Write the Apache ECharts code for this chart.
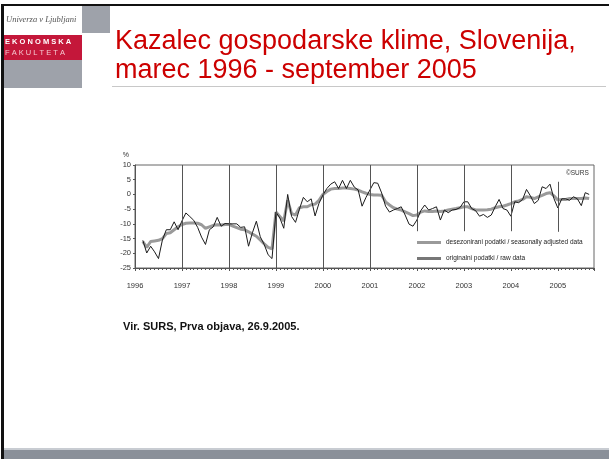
<!DOCTYPE html>
<html>
<head>
<meta charset="utf-8">
<script src="https://cdn.jsdelivr.net/npm/echarts@6/dist/echarts.min.js"></script>
<style>
  html, body { margin: 0; padding: 0; background: #fff; }
  #main { width: 609px; height: 459px; }
</style>
</head>
<body>
<div id="main"></div>
<script>
// monthly series, first value = March 1996, last = September 2005
var startYear = 1996;
var startMonth = 3;

var rawData = [
    -15.6, -19.9, -17.6, -19.5, -21.8, -15.5, -12, -12, -9.3, -12,          // 1996
    -9, -6.3, -7.5, -8.8, -11.2, -14.5, -17, -12, -11, -7.8, -10.8, -9.9,  // 1997
    -10, -10, -10, -11.2, -11, -17.6, -13, -9.1, -14.4, -17, -20.5, -21.8, // 1998
    -6, -8, -11.5, 0, -7.5, -9.5, -5, -1, -2.5, -1.5, -7.3, -3,            // 1999
    -0.2, 2, 3.5, 4.3, 2, 4.8, 2, 4.8, 2.5, 1.5, -4, -1,                    // 2000
    1.5, 4, 3.8, 0.5, -4, -6, -5.3, -4.8, -4.2, -7, -10.1, -10.8,          // 2001
    -8.7, -5.5, -3.6, -5.3, -4.8, -4.2, -8.7, -5.3, -6.2, -5.3, -5.1, -4.5, // 2002
    -2.5, -2.5, -4.8, -5.5, -7.4, -6.8, -7.8, -7, -4.2, -1.7, -4.8, -5.3,  // 2003
    -7.4, -2.5, -2.8, -1.7, 1.7, -0.5, -3.1, -2, 2.6, 2, 3.5, -1.4,        // 2004
    -4.6, -1.5, -1.5, -2, -0.8, -1.5, -3.8, 0.6, 0                         // 2005
];

var adjustedData = [
    -16, -18, -16, -15.8, -15.6, -15, -13.3, -13, -12, -11,                 // 1996
    -10.2, -9.8, -9.7, -9.7, -9.8, -10.3, -11.5, -11, -10.5, -10.3, -10.4, -10.2, // 1997
    -10.2, -10.8, -11.3, -11.8, -12, -12.7, -13.5, -14.2, -15.5, -16.8, -18, -18.5, // 1998
    -6, -7.5, -9, -2, -6.5, -7, -4.5, -4.2, -4.2, -3.5, -3.3, -2,          // 1999
    0, 1, 1.8, 2, 2, 2.2, 2.2, 2, 1.8, 1.5, 0.9, 0.4,                      // 2000
    0, -0.2, -0.2, -0.3, -2.5, -3.6, -4.5, -5, -5.3, -5.9, -6.5, -7.2,     // 2001
    -7, -6, -5.6, -5.8, -5.8, -5.6, -5.8, -5.6, -5.3, -5, -4.8, -4.5,      // 2002
    -4.2, -4.2, -4.8, -5.3, -5.3, -5.3, -5.2, -5, -4.5, -4.2, -4, -3.6,    // 2003
    -3.1, -2.5, -2.2, -1.7, -0.8, -1, -1.4, -0.8, -0.3, 0.3, 0.6, -0.5,    // 2004
    -1.9, -1.7, -1.7, -1.4, -1.4, -1.4, -1.4, -1.2, -1.4                   // 2005
];

// year separators: [year, from, to]
var yearLines = [
    [1997, -25, 10], [1998, -25, 10], [1999, -25, 10], [2000, -25, 10], [2001, -25, 10],
    [2002, -12.5, 10], [2003, -12.5, 10], [2004, -12.5, 10], [2005, -12.7, 4.3]
];

var nameAdjusted = 'desezonirani podatki / seasonally adjusted data';
var nameRaw = 'originalni podatki / raw data';

function toPairs(values) {
    var out = [];
    for (var i = 0; i < values.length; i++) {
        var x = startYear + (startMonth - 1 + i) / 12;
        out.push([x, values[i]]);
    }
    return out;
}

var sepData = [];
for (var i = 0; i < yearLines.length; i++) {
    sepData.push([
        { coord: [yearLines[i][0], yearLines[i][1]] },
        { coord: [yearLines[i][0], yearLines[i][2]] }
    ]);
}

var chart = echarts.init(document.getElementById('main'), null, { renderer: 'canvas' });

chart.setOption({
    animation: false,
    textStyle: { fontFamily: 'Liberation Sans, Arial, sans-serif' },
    grid: { left: 135, top: 165, right: 15, bottom: 191, show: true, borderColor: '#666', borderWidth: 1 },
    legend: {
        orient: 'vertical',
        left: 412,
        top: 234,
        itemGap: 9,
        itemWidth: 24,
        itemHeight: 3,
        textStyle: { fontSize: 6.5, color: '#222' },
        data: [
            { name: nameAdjusted, icon: 'rect', itemStyle: { color: '#9a9a9a' } },
            { name: nameRaw, icon: 'rect', itemStyle: { color: '#777' } }
        ]
    },
    xAxis: {
        type: 'value',
        min: 1996,
        max: 2005.77,
        interval: 1,
        axisLine: { onZero: false, lineStyle: { color: '#555' } },
        axisTick: { show: true, length: 3, lineStyle: { color: '#555' } },
        minorTick: { show: true, splitNumber: 12, length: 2, lineStyle: { color: '#555' } },
        splitLine: { show: false },
        axisLabel: {
            fontSize: 7.5, color: '#333', margin: 14, showMaxLabel: false,
            formatter: function (v) { return v % 1 === 0 ? String(v) : ''; }
        }
    },
    yAxis: {
        type: 'value',
        min: -25,
        max: 10,
        interval: 5,
        name: '%',
        nameLocation: 'end',
        nameGap: 6,
        nameTextStyle: { fontSize: 7, color: '#333', align: 'right', padding: [0, 6, 0, 0] },
        axisLine: { show: true, lineStyle: { color: '#555' } },
        axisTick: { show: true, length: 2, lineStyle: { color: '#555' } },
        splitLine: { show: false },
        axisLabel: { fontSize: 7.5, color: '#333', margin: 4 }
    },
    series: [
        {
            name: nameAdjusted,
            type: 'line',
            showSymbol: false,
            symbol: 'none',
            data: toPairs(adjustedData),
            lineStyle: { color: '#9a9a9a', width: 3 },
            itemStyle: { color: '#9a9a9a' },
            z: 2,
            markLine: {
                silent: true,
                symbol: 'none',
                label: { show: false },
                lineStyle: { color: '#555', width: 1, type: 'solid' },
                data: sepData
            }
        },
        {
            name: nameRaw,
            type: 'line',
            showSymbol: false,
            symbol: 'none',
            data: toPairs(rawData),
            lineStyle: { color: '#1a1a1a', width: 1 },
            itemStyle: { color: '#1a1a1a' },
            z: 3
        }
    ],
    graphic: [
        // slide frame
        { type: 'rect', shape: { x: 1, y: 4, width: 608, height: 2 }, style: { fill: '#111' } },
        { type: 'rect', shape: { x: 1, y: 4, width: 3, height: 455 }, style: { fill: '#111' } },
        // logo
        { type: 'rect', shape: { x: 82, y: 6, width: 28, height: 27 }, style: { fill: '#9ea2aa' } },
        { type: 'text', left: 6, top: 15, style: { text: 'Univerza v Ljubljani', font: 'italic 8.5px "Liberation Serif", serif', fill: '#555' } },
        { type: 'rect', shape: { x: 4, y: 35, width: 78, height: 25 }, style: { fill: '#c4173a' } },
        { type: 'text', left: 5, top: 38, style: { text: 'E K O N O M S K A', font: 'bold 7.5px "Liberation Sans", sans-serif', fill: '#fff' } },
        { type: 'text', left: 5, top: 49, style: { text: 'F A K U L T E T A', font: '7.5px "Liberation Sans", sans-serif', fill: '#f4c8d0' } },
        { type: 'rect', shape: { x: 4, y: 60, width: 78, height: 28 }, style: { fill: '#9ea2aa' } },
        // title
        { type: 'text', left: 115, top: 28, style: { text: 'Kazalec gospodarske klime, Slovenija,', font: '27px "Liberation Sans", Arial, sans-serif', fill: '#cc0000' } },
        { type: 'text', left: 115, top: 57, style: { text: 'marec 1996 - september 2005', font: '27px "Liberation Sans", Arial, sans-serif', fill: '#cc0000' } },
        { type: 'rect', shape: { x: 112, y: 86, width: 494, height: 1 }, style: { fill: '#c8c8c8' } },
        // chart note
        { type: 'text', left: 566, top: 170, style: { text: '©SURS', font: '6.5px "Liberation Sans", sans-serif', fill: '#333' } },
        // source
        { type: 'text', left: 123, top: 321, style: { text: 'Vir. SURS, Prva objava, 26.9.2005.', font: 'bold 11px "Liberation Sans", Arial, sans-serif', fill: '#111' } },
        // footer bar
        { type: 'rect', shape: { x: 4, y: 448, width: 605, height: 2 }, style: { fill: '#c8ccd2' } },
        { type: 'rect', shape: { x: 4, y: 450, width: 605, height: 9 }, style: { fill: '#8a9099' } }
    ]
});
</script>
</body>
</html>
